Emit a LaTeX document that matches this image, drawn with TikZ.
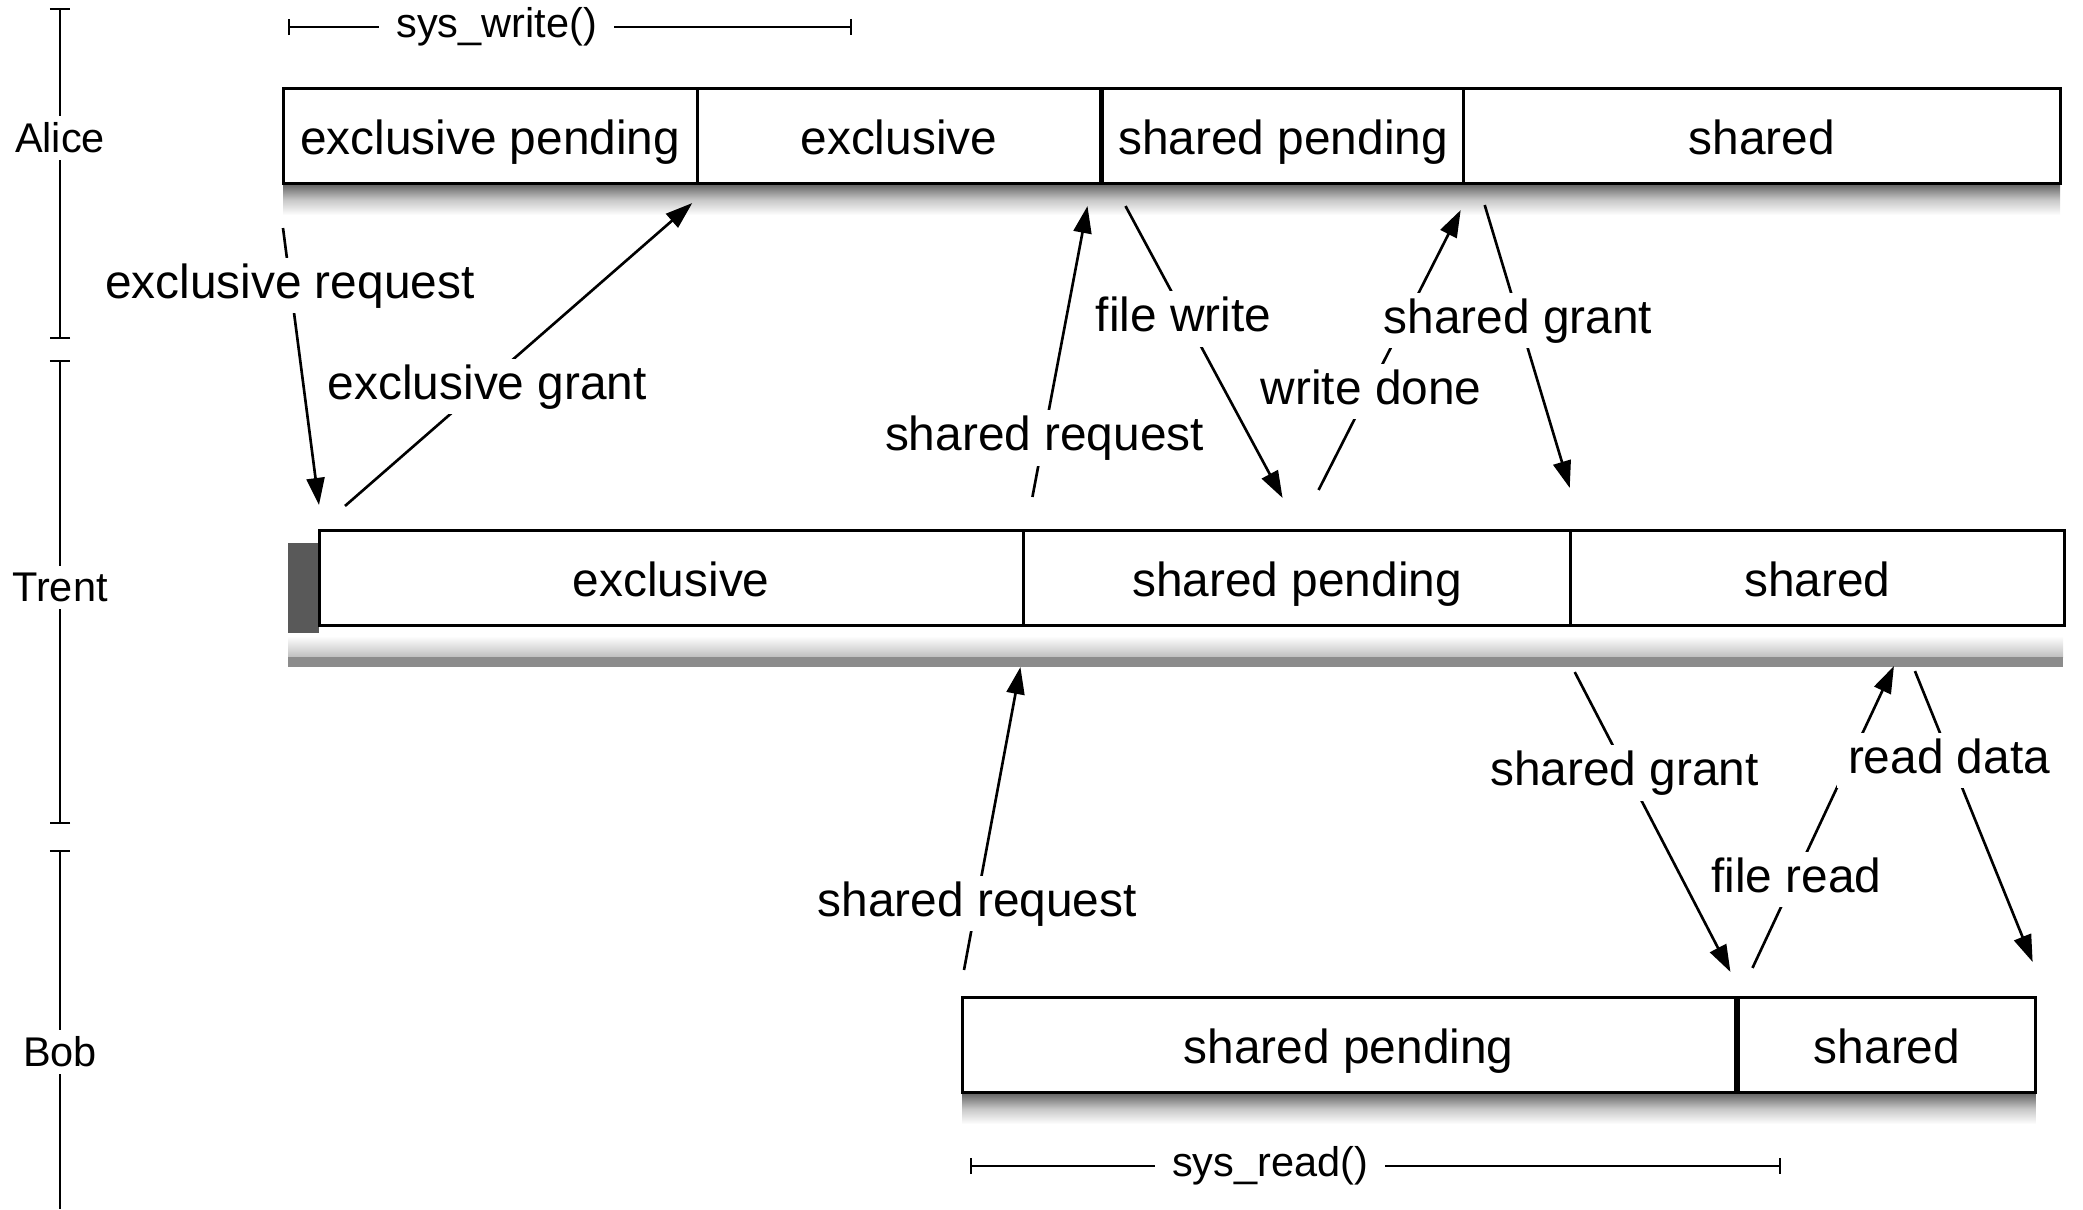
\documentclass[tikz,border=0pt]{standalone}
\usepackage{fontspec}
\setmainfont{Liberation Sans}
\usetikzlibrary{arrows.meta, positioning, backgrounds}

\newcommand{\boxfont}{\fontsize{13.6}{16}\selectfont}
\newcommand{\sidefont}{\fontsize{11.8}{14}\selectfont}

\tikzstyle{statebox} = [rectangle, minimum height=0.94cm, inner sep=0pt, outer sep=0pt, text centered, text height=1.08em, text depth=0.03em, draw=black, fill=white, line width=0.85pt, font=\boxfont]
\tikzstyle{boxshadow} = [top color=black!60, bottom color=white, middle color=black!22]
\tikzstyle{arrow} = [line width=0.75pt, -{Triangle[length=0.27cm, width=0.18cm]}]
\tikzstyle{msg} = [fill=white, inner xsep=3pt, inner ysep=4pt, text height=0.75em, text depth=0.02em, yshift=-0.05cm, font=\boxfont]
\tikzstyle{who} = [fill=white, inner sep=2pt, font=\sidefont]
\tikzstyle{timeline} = [line width=0.6pt, {Bar[width=0.2cm]}-{Bar[width=0.2cm]}]
\tikzstyle{callspan} = [line width=0.6pt, {Bar[width=0.16cm]}-{Bar[width=0.16cm]}]
\tikzstyle{calllabel} = [fill=white, inner xsep=0.17cm, inner ysep=1pt, font=\sidefont]

\begin{document}
\begin{tikzpicture}[x=0.01cm, y=-0.01cm]
\useasboundingbox (0,0) rectangle (2083,1209);

% Trent band
\fill[black!65] (288,543) rectangle (319,633);
\shade[top color=white, bottom color=black!25] (288,636) rectangle (2063,657);
\fill[black!45] (288,657) rectangle (2063,667);

% Alice
\node (aep) [statebox, minimum width=4.14cm, anchor=west] at (283,136) {exclusive pending};
\node (aex) [statebox, minimum width=4.03cm, right=0pt of aep] {exclusive};
\node (asp) [statebox, minimum width=3.61cm, right=0.02cm of aex] {shared pending};
\node (ash) [statebox, minimum width=5.96cm, right=0pt of asp] {shared};

% Trent
\node (tex) [statebox, minimum width=7.04cm, anchor=west] at (319,578) {exclusive};
\node (tsp) [statebox, minimum width=5.47cm, right=0pt of tex] {shared pending};
\node (tsh) [statebox, minimum width=4.93cm, right=0pt of tsp] {shared};

% Bob
\node (bsp) [statebox, minimum width=7.73cm, anchor=west] at (962,1045) {shared pending};
\node (bsh) [statebox, minimum width=2.97cm, right=0.03cm of bsp] {shared};

% Shadows
\begin{pgfonlayer}{background}
\shade[boxshadow] ([yshift=-0.4pt]aep.south west) rectangle ([yshift=-0.32cm]ash.south east);
\shade[boxshadow] ([yshift=-0.4pt]bsp.south west) rectangle ([yshift=-0.32cm]bsh.south east);
\end{pgfonlayer}

% Lifelines
\coordinate (atop) at (60,8);
\coordinate (abot) at (60,339);
\coordinate (ttop) at (60,360);
\coordinate (tbot) at (60,824);
\coordinate (btop) at (60,850);
\coordinate (bbot) at (60,1209);
\draw [timeline] (atop) -- (abot);
\draw [timeline] (ttop) -- (tbot);
\draw [line width=0.6pt, {Bar[width=0.2cm]}-] (btop) -- (bbot);
\node (alice) [who] at (60,138) {Alice};
\node (trent) [who] at (60,587) {Trent};
\node (bob) [who] at (60,1052) {Bob};

% System calls
\coordinate (wstart) at (288,27);
\coordinate (wend) at (852,27);
\coordinate (rstart) at (970,1166);
\coordinate (rend) at (1781,1166);
\draw [callspan] (wstart) -- node[calllabel, pos=0.37] (syswrite) {sys\_write()} (wend);
\draw [callspan] (rstart) -- node[calllabel, pos=0.37] (sysread) {sys\_read()} (rend);

% Arrows
\draw [arrow] ([yshift=-0.45cm]aep.south west) -- node[msg, pos=0.19] {exclusive request} ([yshift=0.26cm]tex.north west);
\draw [arrow] ([xshift=0.26cm, yshift=0.25cm]tex.north west) -- node[msg, pos=0.41] {exclusive grant} ([xshift=-0.05cm, yshift=-0.2cm]aep.south east);
\draw [arrow] ([xshift=0.09cm, yshift=0.34cm]tsp.north west) -- node[msg, pos=0.22] {shared request} ([xshift=-0.13cm, yshift=-0.23cm]aex.south east);
\draw [arrow] ([xshift=0.23cm, yshift=-0.23cm]asp.south west) -- node[msg, pos=0.37] {file write} ([xshift=-0.145cm, yshift=0.33cm]tsp.north);
\draw [arrow] ([xshift=0.215cm, yshift=0.41cm]tsp.north) -- node[msg, pos=0.37] {write done} ([xshift=-0.03cm, yshift=-0.27cm]asp.south east);
\draw [arrow] ([xshift=0.21cm, yshift=-0.22cm]asp.south east) -- node[msg, pos=0.39] {shared grant} ([xshift=-0.01cm, yshift=0.43cm]tsh.north west);
\draw [arrow] ([xshift=0.02cm, yshift=0.28cm]bsp.north west) -- node[msg, pos=0.235] {shared request} ([xshift=-0.03cm, yshift=-0.42cm]tsp.south west);
\draw [arrow] ([xshift=0.04cm, yshift=-0.47cm]tsh.south west) -- node[msg, pos=0.32] {shared grant} ([xshift=-0.05cm, yshift=0.26cm]bsp.north east);
\draw [arrow] ([xshift=0.14cm, yshift=0.30cm]bsh.north west) -- node[msg, pos=0.31] {file read} ([xshift=0.765cm, yshift=-0.41cm]tsh.south);
\draw [arrow] ([xshift=0.975cm, yshift=-0.46cm]tsh.south) -- node[msg, pos=0.29] {read data} ([xshift=-0.03cm, yshift=0.36cm]bsh.north east);

\end{tikzpicture}
\end{document}
